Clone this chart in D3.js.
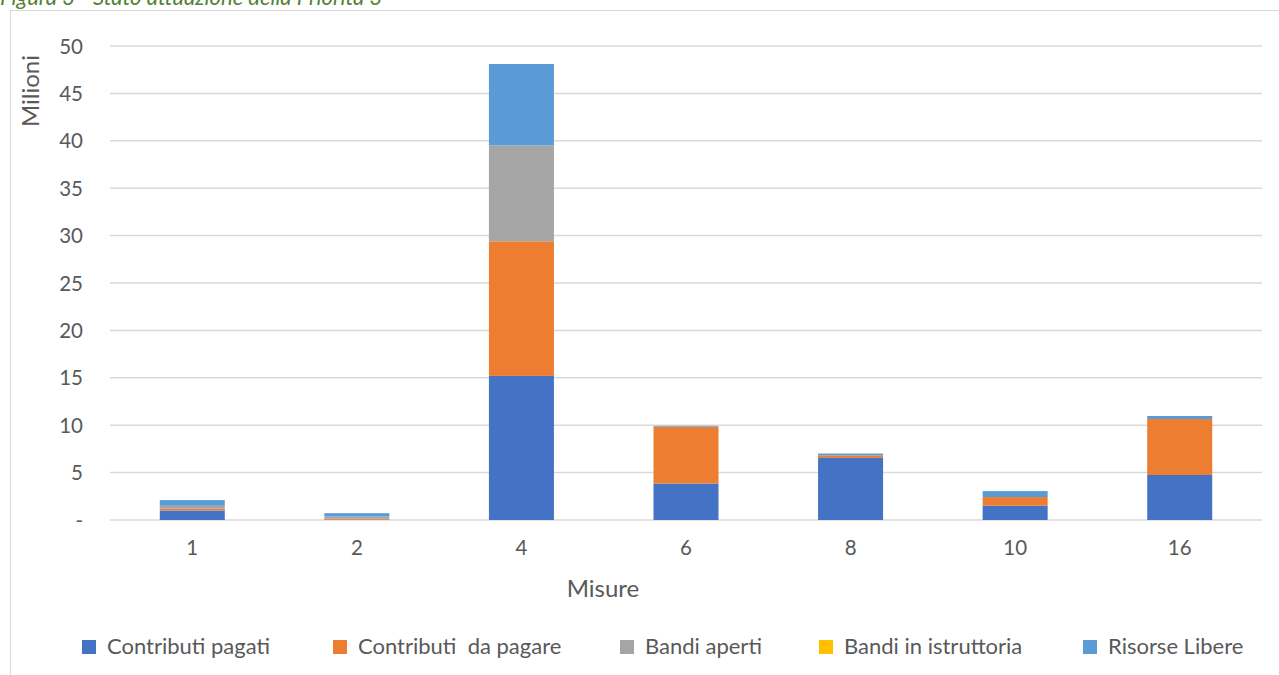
<!DOCTYPE html>
<html>
<head>
<meta charset="utf-8">
<script src="https://cdn.jsdelivr.net/npm/d3@7"></script>
<style>
  html, body { margin: 0; padding: 0; background: #fff; }
  svg { display: block; }
</style>
</head>
<body>
<svg id="chart" width="1279" height="675"></svg>
<script>
// Misure (categories) and amounts in millions of euro per stage
const categories = ["1", "2", "4", "6", "8", "10", "16"];
const contributiPagati   = [1.00, 0.05, 15.20, 3.85, 6.55, 1.50, 4.75];
const contributiDaPagare = [0.18, 0.12, 14.20, 6.00, 0.26, 0.92, 5.90];
const bandiAperti        = [0.32, 0.20, 10.10, 0.00, 0.00, 0.00, 0.00];
const bandiIstruttoria   = [0.00, 0.00, 0.00, 0.00, 0.00, 0.00, 0.00];
const risorseLibere      = [0.60, 0.35, 8.60, 0.08, 0.20, 0.63, 0.32];
const yTicks = [0, 5, 10, 15, 20, 25, 30, 35, 40, 45, 50];

const seriesNames = ["Contributi pagati", "Contributi  da pagare", "Bandi aperti", "Bandi in istruttoria", "Risorse Libere"];
const seriesValues = [contributiPagati, contributiDaPagare, bandiAperti, bandiIstruttoria, risorseLibere];
const seriesColors = ["#4472c4", "#ed7d31", "#a5a5a5", "#ffc000", "#5b9bd5"];

const rows = categories.map((c, i) => {
  const r = { cat: c };
  seriesNames.forEach((s, k) => { r[s] = seriesValues[k][i]; });
  return r;
});

const svg = d3.select("#chart");
const font = "Lato, 'Open Sans', sans-serif";
const textColor = "#595959";

// chart frame
svg.append("rect")
  .attr("x", 10.5).attr("y", 10.5)
  .attr("width", 1280).attr("height", 700)
  .attr("fill", "none").attr("stroke", "#d9d9d9").attr("stroke-width", 1);

// caption above the frame
svg.append("text")
  .attr("x", 0).attr("y", 5)
  .attr("font-family", font).attr("font-style", "italic")
  .attr("font-size", 22).attr("fill", "#538135")
  .text("Figura 3 - Stato attuazione della Priorità 3");

const plot = { left: 110, right: 1262, top: 46, bottom: 520 };

const x = d3.scaleBand()
  .domain(categories)
  .range([plot.left, plot.right])
  .paddingInner(0.605)
  .paddingOuter(0.3025);

const y = d3.scaleLinear()
  .domain([0, 50])
  .range([plot.bottom, plot.top]);

// horizontal gridlines
svg.append("g")
  .selectAll("line")
  .data(yTicks)
  .join("line")
  .attr("x1", plot.left).attr("x2", plot.right)
  .attr("y1", d => y(d)).attr("y2", d => y(d))
  .attr("stroke", "#d9d9d9").attr("stroke-width", 1.5);

// stacked bars
const stack = d3.stack().keys(seriesNames);
const layers = stack(rows);

svg.append("g")
  .selectAll("g")
  .data(layers)
  .join("g")
  .attr("fill", (d, i) => seriesColors[i])
  .selectAll("rect")
  .data(d => d)
  .join("rect")
  .attr("x", d => x(d.data.cat))
  .attr("width", x.bandwidth())
  .attr("y", d => y(d[1]))
  .attr("height", d => Math.max(0, y(d[0]) - y(d[1])));

// y axis labels
const yAxis = d3.axisLeft(y)
  .tickValues(yTicks)
  .tickSize(0)
  .tickPadding(0)
  .tickFormat(d => d === 0 ? "-" : d3.format("d")(d));

const gy = svg.append("g")
  .attr("transform", `translate(${plot.left - 27},0)`)
  .call(yAxis);
gy.select(".domain").remove();
gy.selectAll("text")
  .attr("font-family", font).attr("font-size", 20.5)
  .attr("fill", textColor).attr("dy", "0.35em");

// x axis labels
const xAxis = d3.axisBottom(x).tickSize(0).tickPadding(0);
const gx = svg.append("g")
  .attr("transform", `translate(0,${plot.bottom + 22})`)
  .call(xAxis);
gx.select(".domain").remove();
gx.selectAll("text")
  .attr("font-family", font).attr("font-size", 20.5)
  .attr("fill", textColor).attr("dy", "0.62em");

// axis titles
svg.append("text")
  .attr("transform", "translate(39,91) rotate(-90)")
  .attr("text-anchor", "middle")
  .attr("font-family", font).attr("font-size", 24)
  .attr("fill", textColor)
  .text("Milioni");

svg.append("text")
  .attr("x", 603).attr("y", 597)
  .attr("text-anchor", "middle")
  .attr("font-family", font).attr("font-size", 24)
  .attr("fill", textColor)
  .text("Misure");

// legend
const legendX = [82, 333, 620, 819, 1083];
const legend = svg.append("g");
seriesNames.forEach((s, i) => {
  legend.append("rect")
    .attr("x", legendX[i]).attr("y", 640)
    .attr("width", 14).attr("height", 14)
    .attr("fill", seriesColors[i]);
  legend.append("text")
    .attr("x", legendX[i] + 25).attr("y", 654)
    .attr("font-family", font).attr("font-size", 22)
    .attr("fill", textColor)
    .style("white-space", "pre")
    .text(s);
});
</script>
</body>
</html>
